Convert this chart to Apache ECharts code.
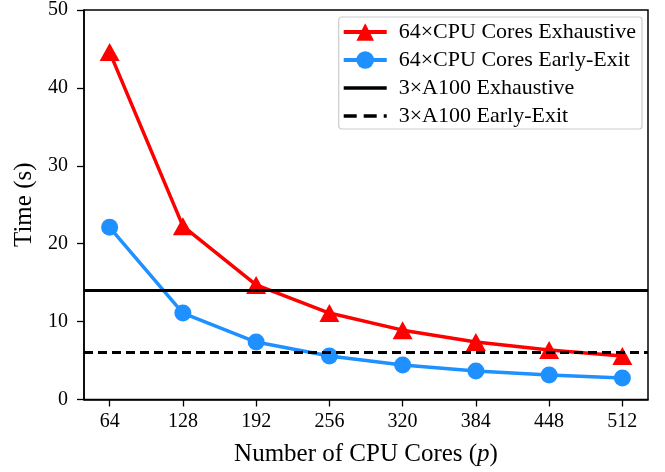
<!DOCTYPE html>
<html><head><meta charset="utf-8">
<script src="https://cdn.jsdelivr.net/npm/echarts@6/dist/echarts.min.js"></script>
<style>html,body{margin:0;padding:0;background:#fff}#c{width:665px;height:472px}</style>
</head><body><div id="c"></div>
<script>
const cores = [64, 128, 192, 256, 320, 384, 448, 512];
const cpuExhaustive = [44.6, 22.25, 14.7, 11.1, 8.9, 7.38, 6.35, 5.58];
const cpuEarlyExit = [22.1, 11.1, 7.38, 5.58, 4.43, 3.66, 3.15, 2.76];
const a100Exhaustive = [14.05];
const a100EarlyExit = [6.1];
const yTicks = [0, 10, 20, 30, 40, 50];
const names = ['64×CPU Cores Exhaustive', '64×CPU Cores Early-Exit', '3×A100 Exhaustive', '3×A100 Early-Exit'];

const FONT = 'Liberation Serif';
const chart = echarts.init(document.getElementById('c'), null, {renderer: 'canvas'});
chart.setOption({
  animation: false,
  backgroundColor: '#fff',
  grid: {left: 84, right: 17, top: 10, bottom: 72.5, show: true, borderColor: '#000', borderWidth: 1.5, backgroundColor: 'transparent'},
  xAxis: {
    type: 'value', min: 41.6, max: 534.4,
    name: 'Number of CPU Cores ({i|p})', nameLocation: 'middle', nameGap: 42,
    nameTextStyle: {fontFamily: FONT, fontSize: 25, color: '#000', rich: {i: {fontFamily: FONT, fontStyle: 'italic', fontSize: 25, color: '#000'}}},
    axisLine: {lineStyle: {color: '#000', width: 1.5}},
    axisTick: {show: true, length: 7, lineStyle: {color: '#000', width: 1.3}, customValues: cores},
    axisLabel: {fontFamily: FONT, fontSize: 20, color: '#000', margin: 12, customValues: cores},
    splitLine: {show: false}
  },
  yAxis: {
    type: 'value', min: 0, max: 50, interval: 10,
    name: 'Time (s)', nameLocation: 'middle', nameGap: 47, nameRotate: 90,
    nameTextStyle: {fontFamily: FONT, fontSize: 25, color: '#000'},
    axisLine: {show: true, lineStyle: {color: '#000', width: 1.5}},
    axisTick: {show: true, length: 7, lineStyle: {color: '#000', width: 1.3}},
    axisLabel: {fontFamily: FONT, fontSize: 20, color: '#000', margin: 16, customValues: yTicks},
    splitLine: {show: false}
  },
  legend: {
    orient: 'vertical', right: 23, top: 17,
    data: [
      {name: names[0], lineStyle: {width: 4}},
      {name: names[1], lineStyle: {width: 4}},
      {name: names[2], itemStyle: {opacity: 0}, lineStyle: {width: 3.5}},
      {name: names[3], itemStyle: {opacity: 0}, lineStyle: {width: 3.5, type: [13, 7]}}
    ],
    backgroundColor: '#fff', borderColor: '#cccccc', borderWidth: 1.2, borderRadius: 3,
    padding: [4, 6, 2, 3], itemGap: 6, itemWidth: 43, itemHeight: 22,
    textStyle: {fontFamily: FONT, fontSize: 22, color: '#000', padding: [0, 0, 0, 7]}
  },
  series: [
    {
      name: names[0], type: 'line', data: cores.map((c, i) => [c, cpuExhaustive[i]]),
      symbol: 'triangle', symbolSize: [20, 18], itemStyle: {color: '#ff0000'},
      lineStyle: {color: '#ff0000', width: 3.5}, z: 2
    },
    {
      name: names[1], type: 'line', data: cores.map((c, i) => [c, cpuEarlyExit[i]]),
      symbol: 'circle', symbolSize: 17, itemStyle: {color: '#1e90ff'},
      lineStyle: {color: '#1e90ff', width: 3.5}, z: 3
    },
    {
      name: names[2], type: 'line', data: [], symbol: 'none',
      lineStyle: {color: '#000', width: 3}, itemStyle: {color: '#000'}, z: 4,
      markLine: {silent: true, symbol: 'none', label: {show: false}, lineStyle: {color: '#000', width: 3, type: 'solid'},
        data: a100Exhaustive.map(v => ({yAxis: v}))}
    },
    {
      name: names[3], type: 'line', data: [], symbol: 'none',
      lineStyle: {color: '#000', width: 3, type: [9, 5]}, itemStyle: {color: '#000'}, z: 4,
      markLine: {silent: true, symbol: 'none', label: {show: false}, lineStyle: {color: '#000', width: 3, type: [9, 5]},
        data: a100EarlyExit.map(v => ({yAxis: v}))}
    }
  ]
});
</script></body></html>
